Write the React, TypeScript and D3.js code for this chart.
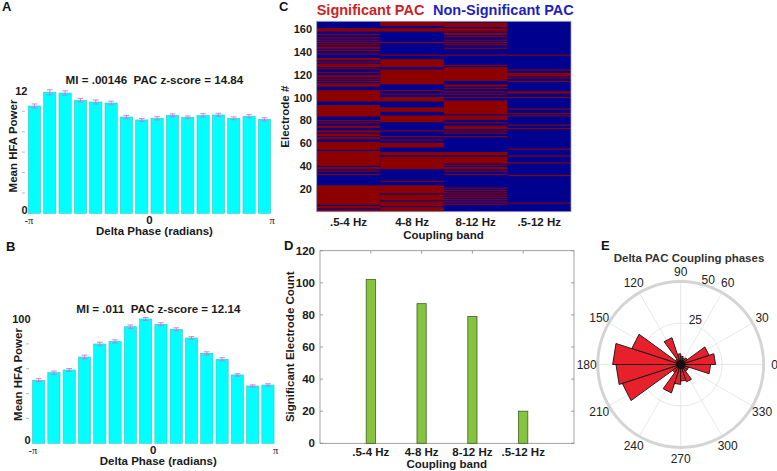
import React from 'react';
import * as d3 from 'd3';

const FONT = "'Liberation Sans', Arial, Helvetica, sans-serif";
const INK = '#1a1a1a';

// ---------- Panel A ----------
const hfaA = [10.53, 11.87, 11.8, 11.09, 10.92, 10.82, 9.45, 9.16, 9.32, 9.61, 9.42, 9.61, 9.65, 9.32, 9.52, 9.22];
const errA = [0.2, 0.25, 0.22, 0.18, 0.2, 0.18, 0.16, 0.14, 0.16, 0.14, 0.13, 0.17, 0.16, 0.14, 0.16, 0.15];
const titleA = 'MI = .00146  PAC z-score = 14.84';
const yTicksA = [0, 2, 4, 6, 8, 10, 12];
const yLabelsA = [0, 12];

// ---------- Panel B ----------
const hfaB = [50.7, 56.8, 59.0, 69.4, 79.9, 82.0, 93.8, 100, 95.7, 91.7, 84.7, 72.4, 67.6, 55.0, 46.1, 46.9];
const errB = [1.3, 1.3, 1.2, 1.5, 1.4, 1.3, 1.4, 1.2, 1.3, 1.2, 1.1, 1.2, 1.3, 1.0, 0.9, 1.0];
const titleB = 'MI = .011  PAC z-score = 12.14';
const yTicksB = [0, 20, 40, 60, 80, 100];
const yLabelsB = [0, 100];

const phaseTicks = [-Math.PI, 0, Math.PI];
const phaseTickLabels = ['-\u03c0', '0', '\u03c0'];

// ---------- Panel C ----------
const bands = ['.5-4 Hz', '4-8 Hz', '8-12 Hz', '.5-12 Hz'];
const nElectrodes = 166;
const sigBand05to4 = [[1, 2], [4, 5], [7, 23], [33, 33], [36, 36], [38, 39], [41, 53], [55, 61], [64, 65], [67, 68], [70, 71], [74, 75], [78, 78], [80, 80], [84, 93], [97, 106], [110, 112], [114, 114], [116, 116], [118, 119], [122, 122], [125, 125], [127, 129], [131, 131], [133, 134], [138, 138], [141, 141], [143, 144], [146, 146], [148, 148], [150, 150], [152, 152], [155, 155], [158, 160]];
const sigBand4to8 = [[1, 4], [6, 9], [11, 15], [17, 23], [27, 27], [38, 48], [50, 52], [57, 60], [63, 63], [66, 66], [71, 71], [79, 84], [88, 91], [97, 100], [103, 103], [106, 106], [112, 124], [127, 133], [137, 137], [148, 148], [158, 160], [163, 166]];
const sigBand8to12 = [[7, 7], [9, 9], [11, 11], [13, 13], [15, 15], [17, 17], [19, 19], [21, 21], [33, 33], [36, 36], [38, 39], [41, 41], [43, 48], [50, 52], [66, 66], [69, 69], [71, 71], [73, 75], [78, 78], [81, 84], [86, 97], [100, 100], [103, 103], [105, 105], [108, 108], [110, 111], [115, 126], [128, 128], [137, 137], [143, 143], [146, 146], [148, 148], [150, 150], [153, 153], [155, 156], [158, 160], [162, 165]];
const sigBand05to12 = [[8, 8], [32, 32], [43, 43], [49, 49], [55, 55], [73, 73], [76, 76], [84, 84], [86, 86], [90, 90], [100, 100], [104, 105], [114, 114], [117, 117], [119, 121], [124, 124], [137, 137]];
const electrodeTicks = [20, 40, 60, 80, 100, 120, 140, 160];

// ---------- Panel D ----------
const sigCounts = [102, 87, 79, 20];
const countTicks = [0, 20, 40, 60, 80, 100, 120];

// ---------- Panel E ----------
const roseCounts = [21, 18, 5, 4, 5, 6.5, 17, 4, 31, 41, 39, 37, 6, 18, 12, 10, 11, 5, 5, 18];
const roseRTicks = [25, 50];
const roseAngleTicks = [0, 30, 60, 90, 120, 150, 180, 210, 240, 270, 300, 330];

function PhasePanel(props: any) {
  const { values, errs, yMax, yTicks, yLabels, title, x0, x1, yTop, yBottom, titleY, tickY, xLabelY, yLabelX, yLabelY, labelRight } = props;
  const band = d3.scaleBand<number>().domain(d3.range(values.length)).range([x0, x1]).paddingInner(0.2).paddingOuter(0.1);
  const xp = d3.scaleLinear().domain([-Math.PI, Math.PI]).range([x0, x1]);
  const y = d3.scaleLinear().domain([0, yMax]).range([yBottom, yTop]);
  const bw = band.bandwidth();
  return (
    <g>
      {yTicks.filter((t: number) => !yLabels.includes(t)).map((t: number) => (
        <line key={'t' + t} x1={x0 - 5} x2={x0 - 2} y1={y(t)} y2={y(t)} stroke="#aaa" strokeWidth={0.8} />
      ))}
      {values.map((v: number, i: number) => (
        <rect key={'b' + i} x={band(i)} y={y(v)} width={bw} height={y(0) - y(v)} fill="#00ffff" stroke="#3cc4c4" strokeWidth={0.6} />
      ))}
      {values.map((v: number, i: number) => {
        const cx = (band(i) as number) + bw / 2;
        const lo = y(v - errs[i]);
        const hi = y(v + errs[i]);
        return (
          <g key={'e' + i} stroke="#d070e0" strokeWidth={0.9}>
            <line x1={cx} x2={cx} y1={lo} y2={hi} />
            <line x1={cx - 2.8} x2={cx + 2.8} y1={lo} y2={lo} />
            <line x1={cx - 2.8} x2={cx + 2.8} y1={hi} y2={hi} />
          </g>
        );
      })}
      {yLabels.map((t: number) => (
        <text key={'yl' + t} x={labelRight} y={y(t) - (t === 0 ? 3 : 0)} dy="0.36em" textAnchor="end" fontSize={11} fontWeight="bold" fill={INK}>{t}</text>
      ))}
      {phaseTicks.map((t, i) => (
        <text key={'xl' + i} x={xp(t) + (i === 0 ? 2 : 0)} y={tickY} textAnchor="middle" fontSize={i === 1 ? 11.5 : 10.5} fontWeight={i === 1 ? 'bold' : 'normal'} fontFamily={i === 1 ? FONT : "'Liberation Serif', 'Times New Roman', serif"} fill={INK}>{phaseTickLabels[i]}</text>
      ))}
      <text x={(x0 + x1) / 2 + 5} y={xLabelY} textAnchor="middle" fontSize={11.5} fontWeight="bold" fill={INK}>Delta Phase (radians)</text>
      <text x={(x0 + x1) / 2 + 5} y={titleY} textAnchor="middle" fontSize={11.6} fontWeight="bold" fill={INK} style={{ whiteSpace: 'pre' }}>{title}</text>
      <text transform={`translate(${yLabelX},${yLabelY}) rotate(-90)`} textAnchor="middle" dy="0.35em" fontSize={11.5} fontWeight="bold" fill={INK}>Mean HFA Power</text>
    </g>
  );
}

function HeatPanel() {
  const left = 316.7, right = 571, top = 21.3, bottom = 211.7;
  const x = d3.scaleBand<string>().domain(bands).range([left, right]);
  const y = d3.scaleLinear().domain([0.5, nElectrodes + 0.5]).range([bottom, top]);
  const cols = [sigBand05to4, sigBand4to8, sigBand8to12, sigBand05to12];
  return (
    <g>
      <rect x={left} y={top} width={right - left} height={bottom - top} fill="#00008f" />
      {cols.map((segs, ci) => (
        <g key={ci}>
          {segs.map(([a, b], si) => (
            <rect key={si} x={x(bands[ci])} width={x.bandwidth()} y={y(b + 0.5)} height={y(a - 0.5) - y(b + 0.5)} fill="#8c0000" />
          ))}
        </g>
      ))}
      <rect x={left} y={top} width={right - left} height={bottom - top} fill="none" stroke="#9aa0c0" strokeWidth={0.8} />
      {electrodeTicks.map(t => (
        <text key={t} x={312} y={y(t)} dy="0.36em" textAnchor="end" fontSize={11} fontWeight="bold" fill={INK}>{t}</text>
      ))}
      {bands.map(b => (
        <text key={b} x={(x(b) as number) + x.bandwidth() / 2} y={226} textAnchor="middle" fontSize={11.5} fontWeight="bold" fill={INK}>{b}</text>
      ))}
      <text x={443.5} y={238.5} textAnchor="middle" fontSize={11.5} fontWeight="bold" fill={INK}>Coupling band</text>
      <text transform="translate(285,116.7) rotate(-90)" textAnchor="middle" dy="0.35em" fontSize={11.5} fontWeight="bold" fill={INK}>Electrode #</text>
      <text x={316.7} y={14.5} fontSize={14.5} fontWeight="bold" fill="#cf1f26">Significant PAC</text>
      <text x={433} y={14.5} fontSize={14.5} fontWeight="bold" fill="#1f1fbd">Non-Significant PAC</text>
    </g>
  );
}

function CountPanel() {
  const left = 320, right = 574, top = 250.7, bottom = 443.3;
  const x = d3.scaleLinear().domain([0, sigCounts.length + 1]).range([left, right]);
  const y = d3.scaleLinear().domain([0, 120]).range([bottom, top]);
  const bw = 9.2;
  return (
    <g>
      <rect x={left} y={top} width={right - left} height={bottom - top} fill="#fff" stroke="#8a8a8a" strokeWidth={0.8} />
      {countTicks.map(t => (
        <g key={t} stroke="#8a8a8a" strokeWidth={0.8}>
          <line x1={left} x2={left + 3} y1={y(t)} y2={y(t)} />
          <line x1={right - 3} x2={right} y1={y(t)} y2={y(t)} />
        </g>
      ))}
      {sigCounts.map((c, i) => (
        <g key={i} stroke="#8a8a8a" strokeWidth={0.8}>
          <line x1={x(i + 1)} x2={x(i + 1)} y1={bottom} y2={bottom - 3} />
          <line x1={x(i + 1)} x2={x(i + 1)} y1={top} y2={top + 3} />
        </g>
      ))}
      {sigCounts.map((c, i) => (
        <rect key={'b' + i} x={x(i + 1) - bw / 2} y={y(c)} width={bw} height={y(0) - y(c)} fill="#86c440" stroke="#3f5f1e" strokeWidth={0.8} />
      ))}
      {countTicks.map(t => (
        <text key={'l' + t} x={315} y={y(t)} dy="0.36em" textAnchor="end" fontSize={11.5} fontWeight="bold" fill={INK}>{t}</text>
      ))}
      {bands.map((b, i) => (
        <text key={b} x={x(i + 1)} y={455.5} textAnchor="middle" fontSize={11.5} fontWeight="bold" fill={INK}>{b}</text>
      ))}
      <text x={446.7} y={468} textAnchor="middle" fontSize={11.5} fontWeight="bold" fill={INK}>Coupling band</text>
      <text transform="translate(290,346.7) rotate(-90)" textAnchor="middle" dy="0.35em" fontSize={11.5} fontWeight="bold" fill={INK}>Significant Electrode Count</text>
    </g>
  );
}

function RosePanel() {
  const cx = 680.7, cy = 364.5, R = 83;
  const r = d3.scaleLinear().domain([0, 50]).range([0, R]);
  const binW = 360 / roseCounts.length;
  const pt = (deg: number, rad: number) => [cx + rad * Math.cos((deg * Math.PI) / 180), cy - rad * Math.sin((deg * Math.PI) / 180)];
  const labelAngle = 72;
  return (
    <g>
      {roseAngleTicks.filter(a => a < 180).map(a => {
        const [xa, ya] = pt(a, R);
        const [xb, yb] = pt(a + 180, R);
        return <line key={a} x1={xa} y1={ya} x2={xb} y2={yb} stroke="#dedede" strokeWidth={0.7} />;
      })}
      <circle cx={cx} cy={cy} r={r(25)} fill="none" stroke="#dedede" strokeWidth={0.7} />
      <circle cx={cx} cy={cy} r={R} fill="none" stroke="#d4d4d4" strokeWidth={3} />
      {roseCounts.map((c, i) => {
        const a0 = i * binW, a1 = (i + 1) * binW;
        const p0 = pt(a0, r(c)), p1 = pt(a1, r(c));
        return <path key={i} d={`M${cx},${cy}L${p0[0]},${p0[1]}L${p1[0]},${p1[1]}Z`} fill="#e8202c" stroke="#111" strokeWidth={0.9} strokeLinejoin="miter" />;
      })}
      <circle cx={cx} cy={cy} r={4.5} fill="#111" />
      {roseAngleTicks.map(a => {
        const [tx, ty] = pt(a, 94);
        return <text key={'a' + a} x={tx} y={ty + (a === 90 ? 1 : 0)} dy="0.36em" textAnchor="middle" fontSize={12} fill="#222">{a}</text>;
      })}
      {roseRTicks.map(t => {
        const [tx, ty] = pt(labelAngle, r(t) + 6);
        return <text key={'r' + t} x={tx} y={ty} dy="0.36em" textAnchor="middle" fontSize={12} fill="#222">{t}</text>;
      })}
      <text x={689} y={262} textAnchor="middle" fontSize={11.5} fontWeight="bold" fill="#333">Delta PAC Coupling phases</text>
    </g>
  );
}

export default function App() {
  return (
    <div style={{ position: 'absolute', left: 0, top: 0 }}>
      <svg width={777} height={471} style={{ display: 'block', background: '#fff' }} fontFamily={FONT}>
        <rect width={777} height={471} fill="#fff" />
        <PhasePanel values={hfaA} errs={errA} yMax={12} yTicks={yTicksA} yLabels={yLabelsA} title={titleA}
          x0={26.8} x1={272.1} yTop={91} yBottom={213.3} titleY={84} tickY={223.5} xLabelY={235}
          yLabelX={13} yLabelY={146} labelRight={27.5} />
        <PhasePanel values={hfaB} errs={errB} yMax={100} yTicks={yTicksB} yLabels={yLabelsB} title={titleB}
          x0={31} x1={275.6} yTop={319} yBottom={443.3} titleY={313} tickY={453.5} xLabelY={464.5}
          yLabelX={18} yLabelY={374.5} labelRight={30.5} />
        <HeatPanel />
        <CountPanel />
        <RosePanel />
        <g fontSize={13} fontWeight="bold" fill="#111">
          <text x={2} y={10.5}>A</text>
          <text x={6} y={251}>B</text>
          <text x={279} y={10.5}>C</text>
          <text x={284} y={250}>D</text>
          <text x={601} y={250}>E</text>
        </g>
      </svg>
    </div>
  );
}
